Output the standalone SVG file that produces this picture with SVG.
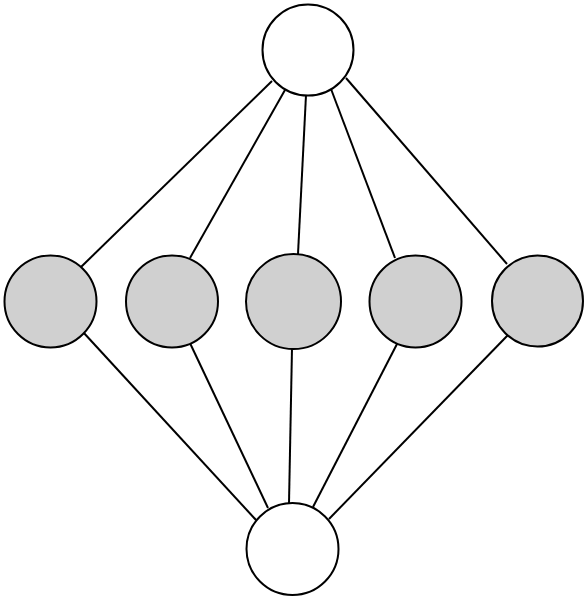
<svg xmlns="http://www.w3.org/2000/svg" width="588" height="600" viewBox="0 0 588 600">
<style>
.n{stroke:#000;stroke-width:2}
.w{fill:#fff}
.g{fill:#d0d0d0}
.e line{stroke:#000;stroke-width:2}
</style>
<rect width="588" height="600" fill="#fff"/>
<g class="e" id="connectors">
<line x1="272" y1="81" x2="81" y2="267"/>
<line x1="285" y1="90" x2="190" y2="258"/>
<line x1="306" y1="95" x2="298" y2="254"/>
<line x1="331" y1="89" x2="395" y2="258"/>
<line x1="346" y1="78" x2="507" y2="264"/>
<line x1="83" y1="332" x2="256" y2="520"/>
<line x1="189" y1="341" x2="268" y2="508"/>
<line x1="292" y1="348" x2="289" y2="503"/>
<line x1="397" y1="344" x2="313" y2="507"/>
<line x1="508" y1="335" x2="329" y2="519"/>
</g>
<g id="top"><circle class="n w" cx="308" cy="50" r="45.5"/></g>
<g id="m1"><circle class="n g" cx="50.5" cy="301.5" r="46"/></g>
<g id="m2"><circle class="n g" cx="172" cy="301.5" r="46"/></g>
<g id="m3"><circle class="n g" cx="293.5" cy="301.5" r="47.5"/></g>
<g id="m4"><circle class="n g" cx="415.5" cy="301.5" r="46"/></g>
<g id="m5"><circle class="n g" cx="537.5" cy="301" r="45.5"/></g>
<g id="bottom"><circle class="n w" cx="292.5" cy="549" r="46"/></g>
</svg>
